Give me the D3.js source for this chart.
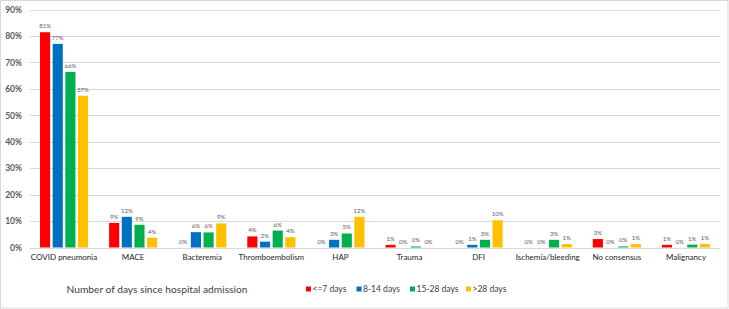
<!DOCTYPE html>
<html><head><meta charset="utf-8">
<script src="https://cdn.jsdelivr.net/npm/d3@7"></script>
<style>body{margin:0;background:#fff}svg{display:block}text{font-family:Lato,"Open Sans",sans-serif}</style>
</head><body>
<svg id="chart" width="729" height="309"></svg>
<script>
const categories = ["COVID pneumonia","MACE","Bacteremia","Thromboembolism","HAP","Trauma","DFI","Ischemia/bleeding","No consensus","Malignancy"];
const seriesNames = ["<=7 days","8-14 days","15-28 days",">28 days"];
const seriesColors = ["#FF0000","#0070C0","#00B050","#FFC000"];
const s1 = [81.4, 9.3, 0, 4.2, 0, 1.0, 0, 0, 3.2, 1.0];
const s2 = [77.0, 11.6, 5.8, 2.2, 2.9, 0, 1.0, 0, 0, 0];
const s3 = [66.4, 8.6, 5.7, 6.4, 5.3, 0.4, 2.9, 2.9, 0.4, 1.1];
const s4 = [57.4, 3.7, 9.1, 3.9, 11.6, 0, 10.3, 1.3, 1.3, 1.3];
const yTicks = [0,10,20,30,40,50,60,70,80,90];
const legendTitle = "Number of days since hospital admission";

const series = [s1,s2,s3,s4];
const svg = d3.select("#chart");
svg.append("rect").attr("x",0.5).attr("y",0.5).attr("width",727.5).attr("height",307.5)
  .attr("fill","#fff").attr("stroke","#d9d9d9");

const x = d3.scaleBand().domain(categories).range([29.5,720.5]).paddingInner(0).paddingOuter(0);
const xi = d3.scaleBand().domain(d3.range(4)).range([10.5, x.bandwidth()-10.5]).paddingInner(0.2).paddingOuter(0);
const y = d3.scaleLinear().domain([0,90]).range([247.5,9.5]);

// gridlines
svg.append("g").selectAll("line").data(yTicks).join("line")
  .attr("x1",29.5).attr("x2",720).attr("y1",d=>Math.round(y(d))+0.5).attr("y2",d=>Math.round(y(d))+0.5)
  .attr("stroke","#d9d9d9").attr("stroke-width",1);

// y axis labels
const yAxis = d3.axisLeft(y).tickValues(yTicks).tickFormat(d=>d+"%").tickSize(0).tickPadding(0);
const ga = svg.append("g").attr("transform","translate(22,0)").call(yAxis);
ga.select(".domain").remove();
ga.selectAll("text").attr("font-family","Lato,sans-serif").attr("font-size",8.5).attr("font-weight","bold").attr("fill","#595959");

// x axis labels
const xAxis = d3.axisBottom(x).tickSize(0).tickPadding(0);
const gx = svg.append("g").attr("transform","translate(0,254)").call(xAxis);
gx.select(".domain").remove();
gx.selectAll("text").attr("font-family","Lato,sans-serif").attr("font-size",8).attr("fill","#262626");

// bars
const groups = svg.append("g").selectAll("g").data(categories).join("g")
  .attr("transform",d=>`translate(${x(d)},0)`);
groups.each(function(c,ci){
  const g = d3.select(this);
  series.forEach((s,si)=>{
    const v = s[ci];
    g.append("rect").attr("x",xi(si)).attr("width",xi.bandwidth())
      .attr("y",y(v)).attr("height",y(0)-y(v)).attr("fill",seriesColors[si]);
    g.append("text").attr("x",xi(si)+xi.bandwidth()/2).attr("y",y(v)-4)
      .attr("text-anchor","middle").attr("font-size",6).attr("fill","#595959")
      .text(Math.round(v)+"%");
  });
});

// legend
svg.append("text").attr("x",157).attr("y",292.5).attr("text-anchor","middle")
  .attr("font-size",10.2).attr("fill","#404040").text(legendTitle);
const legX = [306,356.5,410,466];
seriesNames.forEach((n,i)=>{
  svg.append("rect").attr("x",legX[i]).attr("y",286.5).attr("width",5).attr("height",5).attr("fill",seriesColors[i]);
  svg.append("text").attr("x",legX[i]+6.5).attr("y",292).attr("font-size",8.5).attr("fill","#404040").text(n);
});
</script>
</body></html>
